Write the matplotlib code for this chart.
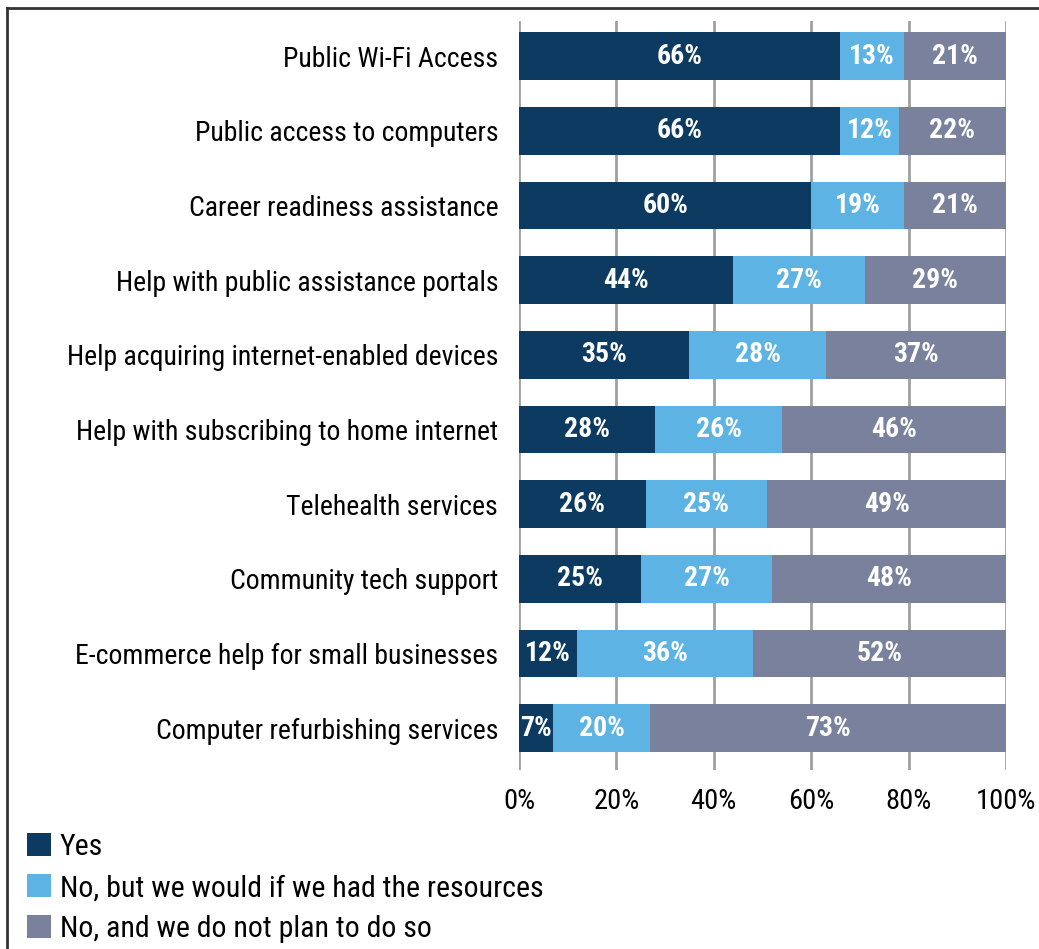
import matplotlib
matplotlib.use("Agg")
import matplotlib.pyplot as plt
import matplotlib.ticker as ticker
from matplotlib.lines import Line2D
import numpy as np

plt.rcParams['font.family'] = ['Roboto Condensed', 'DejaVu Sans']

services = [
    "Public Wi-Fi Access",
    "Public access to computers",
    "Career readiness assistance",
    "Help with public assistance portals",
    "Help acquiring internet-enabled devices",
    "Help with subscribing to home internet",
    "Telehealth services",
    "Community tech support",
    "E-commerce help for small businesses",
    "Computer refurbishing services",
]
yes = [66, 66, 60, 44, 35, 28, 26, 25, 12, 7]
no_if_resources = [13, 12, 19, 27, 28, 26, 25, 27, 36, 20]
no_no_plan = [21, 22, 21, 29, 37, 46, 49, 48, 52, 73]

legend_labels = ["Yes", "No, but we would if we had the resources", "No, and we do not plan to do so"]
colors = ["#0c3a60", "#5db3e4", "#79819c"]
FS = 20

fig = plt.figure(figsize=(10.39, 9.49), dpi=100)
ax = fig.add_axes([0.4995, 0.1886, 0.4687, 0.7893])

y = np.arange(len(services))
left = np.zeros(len(services))
for vals, col, lab in zip([yes, no_if_resources, no_no_plan], colors, legend_labels):
    bars = ax.barh(y, vals, left=left, height=0.64, color=col, label=lab, zorder=2)
    for rect, v in zip(bars, vals):
        ax.text(rect.get_x() + rect.get_width() / 2, rect.get_y() + rect.get_height() / 2,
                f"{v}%", ha="center", va="center", color="white",
                fontsize=FS, fontweight="bold", zorder=3)
    left += np.array(vals)

ax.set_xlim(0, 100)
ax.set_ylim(len(services) - 1 + 0.56, -0.47)
ax.set_yticks(y)
ax.set_yticklabels(services, fontsize=FS)
ax.xaxis.set_major_locator(ticker.MultipleLocator(20))
ax.xaxis.set_major_formatter(ticker.FuncFormatter(lambda v, p: f"{int(v)}%"))
ax.tick_params(axis="x", labelsize=20.5, length=0, pad=13)
ax.tick_params(axis="y", length=0, pad=15)
ax.grid(axis="x", color="#a0a0a0", linewidth=2, zorder=0)
for s in ax.spines.values():
    s.set_visible(False)

# outer frame (top and left edges only)
fig.add_artist(Line2D([7 / 1039, 1.0], [1 - 8 / 949, 1 - 8 / 949], color="#333333", linewidth=2))
fig.add_artist(Line2D([7 / 1039, 7 / 1039], [0.0, 1 - 8 / 949], color="#333333", linewidth=2))

fig.legend(loc="upper left", bbox_to_anchor=(27 / 1039, 1 - 833 / 949), frameon=False,
           fontsize=21.5, handlelength=0.8, handleheight=0.8, handletextpad=0.3,
           labelspacing=0.44, borderaxespad=0, borderpad=0)

fig.savefig("out.png", dpi=100)
